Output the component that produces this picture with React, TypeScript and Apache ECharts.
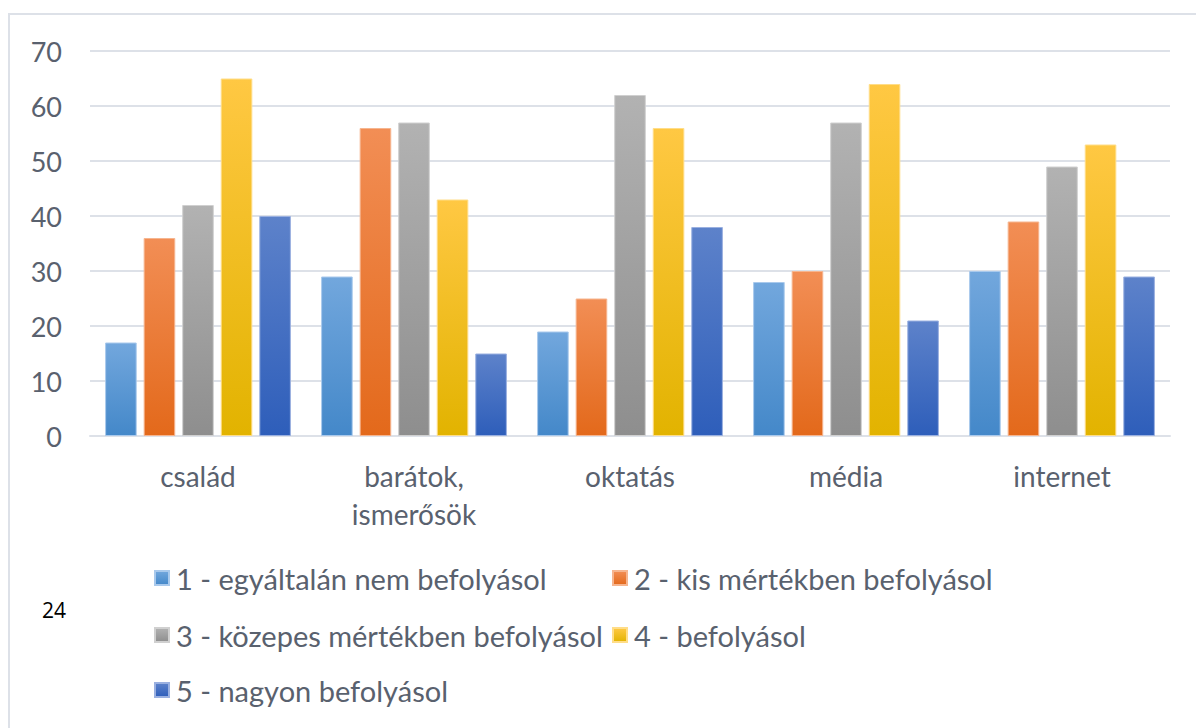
import React, { useEffect, useRef } from "react";
import * as echarts from "echarts";

const categories = ["család", "barátok,\nismerősök", "oktatás", "média", "internet"];
const seriesNames = [
  "1 - egyáltalán nem befolyásol",
  "2 - kis mértékben befolyásol",
  "3 - közepes mértékben befolyásol",
  "4 - befolyásol",
  "5 - nagyon befolyásol",
];
const s1 = [17, 29, 19, 28, 30];
const s2 = [36, 56, 25, 30, 39];
const s3 = [42, 57, 62, 57, 49];
const s4 = [65, 43, 56, 64, 53];
const s5 = [40, 15, 38, 21, 29];
const seriesData = [s1, s2, s3, s4, s5];
const yTicks = [0, 10, 20, 30, 40, 50, 60, 70];

const gradients: [string, string, string][] = [
  ["#72a7dd", "#4488c9", "#a9c9ec"],
  ["#f28e55", "#e3691b", "#f6b58f"],
  ["#b2b2b2", "#8e8e8e", "#d0d0d0"],
  ["#ffc843", "#e2b300", "#ffdd88"],
  ["#5d82ca", "#2e5eba", "#9ab0e0"],
];

const FONT = "Lato, 'Open Sans', sans-serif";
const TEXT = "#59616e";

export default function App() {
  const ref = useRef<HTMLDivElement>(null);
  useEffect(() => {
    if (!ref.current) return;
    const chart = echarts.init(ref.current, null, { renderer: "svg" });
    const legendPos = [
      { left: 154, top: 563 },
      { left: 612, top: 563 },
      { left: 154, top: 620 },
      { left: 612, top: 620 },
      { left: 154, top: 675 },
    ];
    chart.setOption({
      animation: false,
      backgroundColor: "#ffffff",
      textStyle: { fontFamily: FONT },
      grid: { left: 90, right: 26, top: 51, bottom: 292, containLabel: false },
      xAxis: {
        type: "category",
        data: categories,
        axisTick: { show: false },
        axisLine: { lineStyle: { color: "#dde1e8", width: 2 } },
        axisLabel: {
          color: TEXT,
          fontSize: 28,
          fontFamily: FONT,
          margin: 21,
          lineHeight: 38,
          interval: 0,
        },
      },
      yAxis: {
        type: "value",
        min: 0,
        max: 70,
        interval: 10,
        axisLine: { show: false },
        axisTick: { show: false },
        axisLabel: {
          color: TEXT,
          fontSize: 27,
          fontFamily: FONT,
          margin: 28,
          formatter: (v: number) => (yTicks.includes(v) ? String(v) : ""),
        },
        splitLine: { lineStyle: { color: "#dde1e8", width: 2 } },
      },
      legend: seriesNames.map((n, i) => ({
        data: [n],
        left: legendPos[i].left,
        top: legendPos[i].top,
        padding: 0,
        itemWidth: 14,
        itemHeight: 14,
        icon: "rect",
        textStyle: {
          color: TEXT,
          fontSize: 29,
          lineHeight: 30,
          fontFamily: FONT,
          padding: [0, 0, 0, 2],
        },
      })),
      graphic: [
        {
          type: "rect",
          shape: { x: 9, y: 14, width: 1250, height: 800 },
          style: { fill: "none", stroke: "#dde1e8", lineWidth: 2 },
          silent: true,
        },
        {
          type: "text",
          left: 42,
          top: 599,
          style: { text: "24", fill: "#000000", fontSize: 21, fontFamily: "'Open Sans', sans-serif" },
        },
      ],
      series: seriesData.map((d, i) => ({
        name: seriesNames[i],
        type: "bar",
        data: d,
        barGap: "22%",
        barCategoryGap: "14%",
        itemStyle: {
          color: new echarts.graphic.LinearGradient(0, 0, 0, 1, [
            { offset: 0, color: gradients[i][0] },
            { offset: 1, color: gradients[i][1] },
          ]),
          borderColor: gradients[i][2],
          borderWidth: 1,
        },
      })),
    });
    return () => chart.dispose();
  }, []);
  return (
    <div
      ref={ref}
      style={{ position: "fixed", left: 0, top: 0, width: 1196, height: 728 }}
    />
  );
}
